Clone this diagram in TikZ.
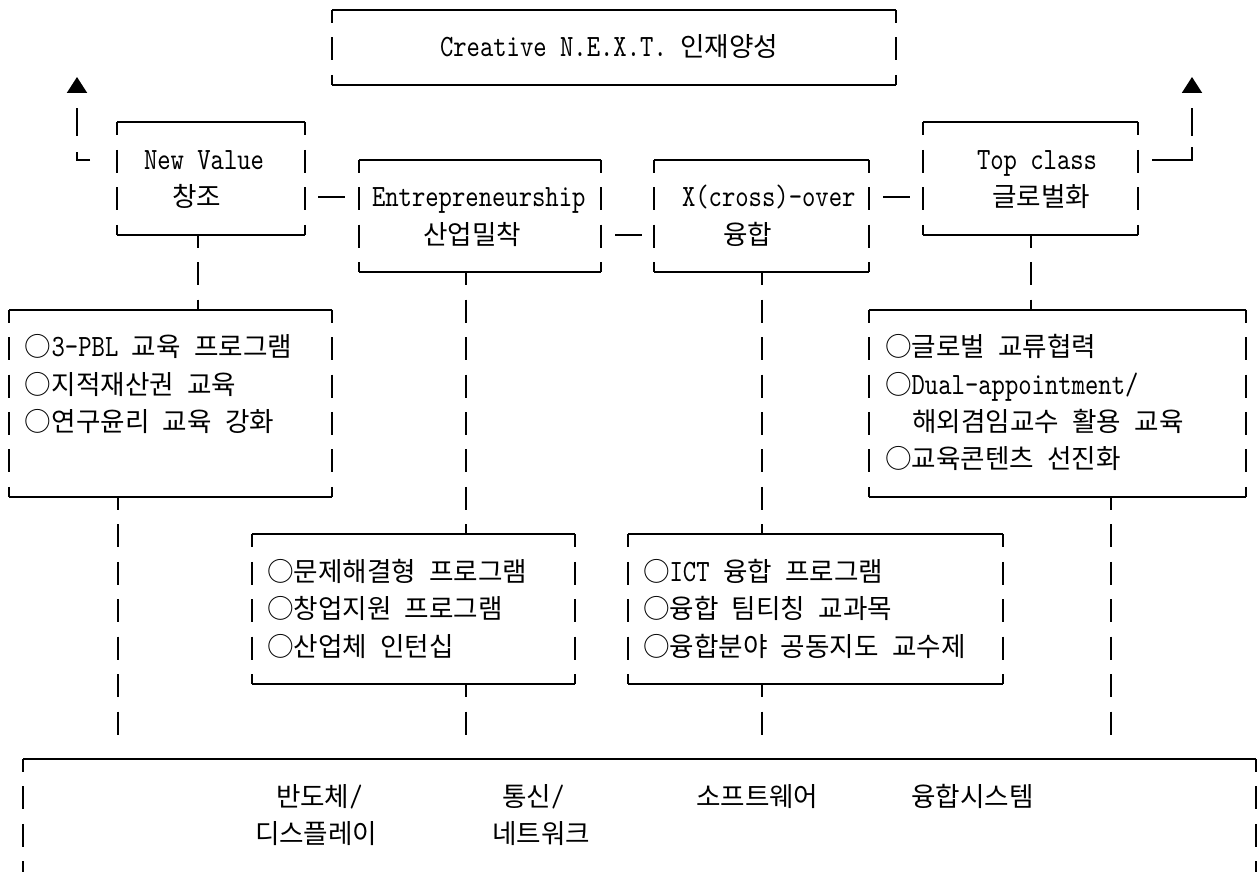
\documentclass[tikz,border=0pt]{standalone}
\usepackage{fontspec}
\usetikzlibrary{fit,arrows.meta}
\newfontfamily\lat{lmmono10-regular.otf}[FakeStretch=0.82]
\newfontfamily\kr{Noto Sans CJK KR}[Scale=0.859]
\newcommand\K[1]{{\kr #1}}
\tikzset{
  txt/.style={anchor=base west, inner sep=0, outer sep=0, font=\fontsize{15.5pt}{18pt}\lat\frenchspacing},
  tbox/.style={inner sep=0, outer sep=0, minimum size=0pt},
  hline/.style={line width=1pt},
  vline/.style={line width=1pt, dash pattern=on 11.5pt off 7.225pt, dash phase=5pt},
  conn/.style={line width=0.6pt, dash pattern=on 11.5pt off 7.225pt, dash phase=5pt},
  link/.style={line width=1pt},
  tip/.style={-{Triangle[width=10pt,length=8pt]}}
}
\newcommand\drawbox[1]{%
  \draw[hline] (#1.north west) -- (#1.north east) (#1.south west) -- (#1.south east);
  \draw[vline] (#1.north west) -- (#1.south west) (#1.north east) -- (#1.south east);}
\begin{document}
\begin{tikzpicture}[x=0.5pt,y=-0.5pt]
\useasboundingbox (0,0) rectangle (1259,872);
\clip (0,0) rectangle (1259,872);
\foreach \k in {0,...,25} \coordinate (r\k) at (0,{10+37.45*\k});
% boxes
\node[tbox, fit={(332,10) (896,84.9)}] (cr) {};
\node[tbox, fit={(117,122.4) (305,234.7)}] (nv) {};
\node[tbox, fit={(359,159.8) (601,272.2)}] (en) {};
\node[tbox, fit={(654,159.8) (869,272.2)}] (xo) {};
\node[tbox, fit={(923,122.4) (1138,234.7)}] (tc) {};
\node[tbox, fit={(9,309.6) (332,496.9)}] (nvl) {};
\node[tbox, fit={(869,309.6) (1246,496.9)}] (tcl) {};
\node[tbox, fit={(252,534.3) (575,684.1)}] (enl) {};
\node[tbox, fit={(628,534.3) (1003,684.1)}] (xol) {};
\node[tbox, fit={(23,759) (1256,946.25)}] (bot) {};
\foreach \b in {cr,nv,en,xo,tc,nvl,tcl,enl,xol,bot} {\drawbox{\b}}
% texts
\node[txt] (cr1) at (440,57) {Creative N.E.X.T. \K{인재양성}};
\node[txt] (nv1) at (144,169.3) {New Value};
\node[txt] (nv2) at (172,206.8) {\K{창조}};
\node[txt] (en1) at (372,206.8) {Entrepreneurship};
\node[txt] (en2) at (423,244.2) {\K{산업밀착}};
\node[txt] (xo1) at (682,206.8) {X(cross)-over};
\node[txt] (xo2) at (723,244.2) {\K{융합}};
\node[txt] (tc1) at (977,169.3) {Top class};
\node[txt] (tc2) at (992,206.8) {\K{글로벌화}};
\node[txt] (nvl1) at (25,356.6) {\K{○}3-PBL \K{교육} \K{프로그램}};
\node[txt] (nvl2) at (25,394) {\K{○지적재산권} \K{교육}};
\node[txt] (nvl3) at (25,431.5) {\K{○연구윤리} \K{교육} \K{강화}};
\node[txt] (tcl1) at (885,356.6) {\K{○글로벌} \K{교류협력}};
\node[txt] (tcl2) at (885,394) {\K{○}Dual-appointment/};
\node[txt] (tcl3) at (912,431.5) {\K{해외겸임교수} \K{활용} \K{교육}};
\node[txt] (tcl4) at (885,468.9) {\K{○교육콘텐츠} \K{선진화}};
\node[txt] (enl1) at (267,581.3) {\K{○문제해결형} \K{프로그램}};
\node[txt] (enl2) at (267,618.7) {\K{○창업지원} \K{프로그램}};
\node[txt] (enl3) at (267,656.2) {\K{○산업체} \K{인턴십}};
\node[txt] (xol1) at (643,581.3) {\K{○}ICT \K{융합} \K{프로그램}};
\node[txt] (xol2) at (643,618.7) {\K{○융합} \K{팀티칭} \K{교과목}};
\node[txt] (xol3) at (643,656.2) {\K{○융합분야} \K{공동지도} \K{교수제}};
\node[txt] (b1) at (276,806) {\K{반도체}/};
\node[txt] (b2) at (255,843.4) {\K{디스플레이}};
\node[txt] (b3) at (502,806) {\K{통신}/};
\node[txt] (b4) at (492,843.4) {\K{네트워크}};
\node[txt] (b5) at (696,806) {\K{소프트웨어}};
\node[txt] (b6) at (911,806) {\K{융합시스템}};
% horizontal links
\draw[link, shorten <=6.5pt, shorten >=7pt] (nv.east |- r5) -- (en.west |- r5);
\draw[link, shorten <=7pt, shorten >=6pt] (en.east |- r6) -- (xo.west |- r6);
\draw[link, shorten <=7pt, shorten >=6.5pt] (xo.east |- r5) -- (tc.west |- r5);
% arrows
\coordinate (aL) at (77,77);
\coordinate (aR) at (1192,77);
\draw[link, tip, dash pattern=on 10.4pt off 8pt on 14pt off 40pt, shorten <=13.5pt] (nv.west |- r4) -- (aL |- r4) -- (aL);
\draw[link, tip, dash pattern=on 26.4pt off 5.5pt on 14pt off 40pt, shorten <=7pt] (tc.east |- r4) -- (aR |- r4) -- (aR);
% vertical connectors
\coordinate (v1) at (198,0);
\coordinate (v2) at (466,0);
\coordinate (v3) at (762,0);
\coordinate (v4) at (1031,0);
\draw[conn] (nv.south -| v1) -- (nvl.north -| v1);
\draw[conn] (en.south -| v2) -- (enl.north -| v2);
\draw[conn] (xo.south -| v3) -- (xol.north -| v3);
\draw[conn] (tc.south -| v4) -- (tcl.north -| v4);
\coordinate (e1) at (118,737);
\coordinate (e2) at (466,737);
\coordinate (e3) at (762,737);
\coordinate (e4) at (1111,737);
\draw[conn] (nvl.south -| e1) -- (e1);
\draw[conn] (enl.south -| e2) -- (e2);
\draw[conn] (xol.south -| e3) -- (e3);
\draw[conn] (tcl.south -| e4) -- (e4);
\end{tikzpicture}
\end{document}
